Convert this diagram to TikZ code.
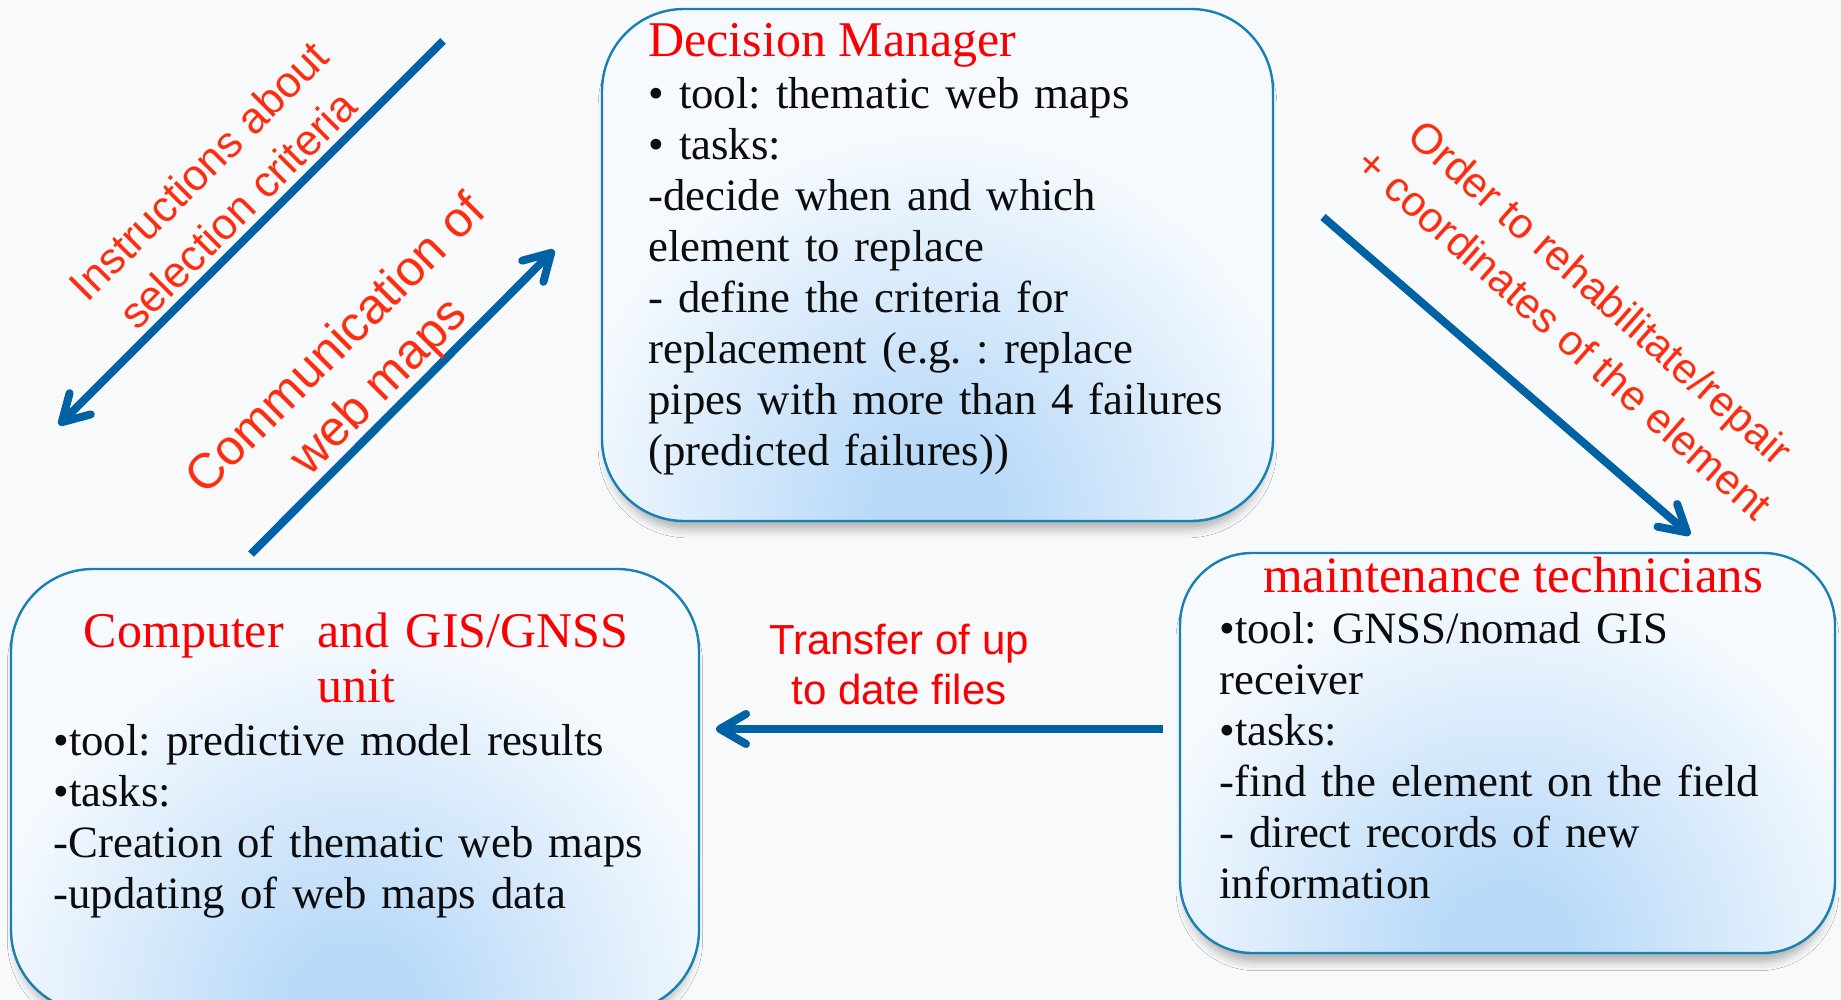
\documentclass[tikz,border=0pt]{standalone}
\usepackage{fontspec}
\setmainfont{Liberation Serif}
\newfontfamily\tagfont{Liberation Sans}
\usetikzlibrary{positioning, arrows.meta, shadows.blur}
\frenchspacing

\definecolor{paper}{RGB}{248,249,250}
\definecolor{boxtint}{RGB}{246,250,254}
\definecolor{glow}{RGB}{184,217,248}
\definecolor{edge}{RGB}{24,128,178}
\definecolor{flowblue}{RGB}{0,98,164}
\definecolor{tagred}{RGB}{255,45,15}
\definecolor{headred}{RGB}{250,0,0}
\definecolor{ink}{RGB}{12,12,12}
\pgfdeclareradialshading{panelglow}{\pgfpoint{0bp}{0bp}}{color(0bp)=(glow); color(3bp)=(glow); color(19bp)=(boxtint); color(50bp)=(boxtint)}

\begin{document}
\begin{tikzpicture}[x=0.5pt, y=-0.5pt,
  panel/.style = {draw=edge, line width=1.2pt, fill=boxtint, rounded corners=41pt,
    blur shadow={shadow xshift=0pt, shadow yshift=-6pt, shadow scale=0.985, shadow blur radius=4.5pt, shadow opacity=30},
    path picture={\shade[shading=panelglow]
      ([xshift=-250pt, yshift=-250pt]path picture bounding box.south) rectangle
      ([xshift=250pt, yshift=250pt]path picture bounding box.south);}},
  head/.style = {text=headred, font=\fontsize{25pt}{27.5pt}\selectfont, inner sep=0pt},
  body/.style = {text=ink, font=\fontsize{22.4pt}{25.5pt}\selectfont, inner sep=0pt, text width=320pt, align=left},
  tag/.style = {text=tagred, align=center, inner sep=0pt},
  flow/.style = {draw=flowblue, line width=4pt, -{Straight Barb[length=13pt, width=15pt, round]}}]

\path[use as bounding box, fill=paper] (0,0) rectangle (1841,1000);

\node[panel, minimum width=335.5pt, minimum height=256pt] (dm) at (937.5,265) {};
\node[panel, minimum width=344pt, minimum height=221.5pt] (ct) at (355,790.5) {};
\node[panel, minimum width=327.5pt, minimum height=200pt, rounded corners=36pt] (mt) at (1507.5,753) {};

\node[head, anchor=base west] (dmhead) at (648,57) {Decision Manager};
\node[body, anchor=base west] (dmbody) at (648,109) {• tool: thematic web maps\\
  • tasks:\\
  -decide when and which\\
  element to replace\\
  - define the criteria for\\
  replacement (e.g.\ : replace\\
  pipes with more than 4 failures\\
  (predicted failures))};

\node[head, text width=340pt, align=center, anchor=base] (cthead) at (356,647) {Computer\ \ and GIS/GNSS\\ unit};
\node[body, anchor=base west] (ctbody) at (53,755) {•tool: predictive model results\\
  •tasks:\\
  -Creation of thematic web maps\\
  -updating of web maps data};

\node[head, font=\fontsize{25.5pt}{27.5pt}\selectfont, anchor=base] (mthead) at (1513,592) {maintenance technicians};
\node[body, anchor=base west] (mtbody) at (1219,643) {•tool: GNSS/nomad GIS\\
  receiver\\
  •tasks:\\
  -find the element on the field\\
  - direct records of new\\
  information};

\coordinate (in1) at (443,41);
\coordinate (in2) at (59,425);
\coordinate (cm1) at (251,554);
\coordinate (cm2) at (554,250);
\coordinate (or1) at (1323,217);
\coordinate (or2) at (1690,535);
\coordinate (tf1) at (1163,729);
\coordinate (tf2) at (716,729);

\draw[flow] (in1) -- (in2);
\draw[flow] (cm1) -- (cm2);
\draw[flow] (or1) -- (or2);
\draw[flow] (tf1) -- (tf2);

\node[tag, font=\tagfont\fontsize{21.8pt}{27.5pt}\selectfont, rotate=45] (instr) at (218,190) {Instructions about\\selection criteria};
\node[tag, font=\tagfont\fontsize{24.8pt}{30pt}\selectfont, rotate=45] (comm) at (359,367) {Communication of\\web maps};
\node[tag, font=\tagfont\fontsize{21.2pt}{27.5pt}\selectfont, rotate=-41.5] (order) at (1583,313) {Order to rehabilitate/repair\\+ coordinates of the element};
\node[tag, text=headred, font=\tagfont\fontsize{21pt}{25pt}\selectfont] (transfer) at (899,665) {Transfer of up\\to date files};

\end{tikzpicture}
\end{document}
